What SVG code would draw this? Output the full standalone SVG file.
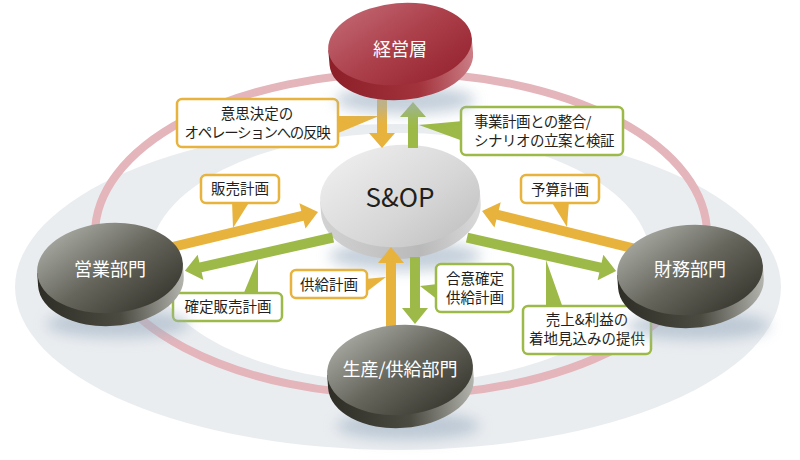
<svg xmlns="http://www.w3.org/2000/svg" width="800" height="460" viewBox="0 0 800 460">
<defs>
<linearGradient id="gTop" x1="0" y1="0" x2="1" y2="1">
<stop offset="0" stop-color="#b9bbb4"/><stop offset="0.5" stop-color="#66665d"/><stop offset="1" stop-color="#2c2c24"/>
</linearGradient>
<linearGradient id="gSide" x1="0" y1="0" x2="1" y2="0">
<stop offset="0" stop-color="#2e2e26"/><stop offset="0.55" stop-color="#4b4b42"/><stop offset="1" stop-color="#b4b5ae"/>
</linearGradient>
<linearGradient id="sTop" x1="0" y1="0" x2="1" y2="1">
<stop offset="0" stop-color="#f2f2f2"/><stop offset="0.6" stop-color="#d6d6d6"/><stop offset="1" stop-color="#bdbdbd"/>
</linearGradient>
<linearGradient id="sSide" x1="0" y1="0" x2="1" y2="0">
<stop offset="0" stop-color="#d2d2d2"/><stop offset="0.6" stop-color="#b9b9b9"/><stop offset="1" stop-color="#dadada"/>
</linearGradient>
<linearGradient id="rTop" x1="0" y1="0" x2="1" y2="1">
<stop offset="0" stop-color="#c56d78"/><stop offset="0.5" stop-color="#ab3f4a"/><stop offset="1" stop-color="#92202b"/>
</linearGradient>
<linearGradient id="rSide" x1="0" y1="0" x2="1" y2="0">
<stop offset="0" stop-color="#8c1f28"/><stop offset="0.6" stop-color="#a2323b"/><stop offset="1" stop-color="#cc7e86"/>
</linearGradient>
<filter id="blur" x="-50%" y="-100%" width="200%" height="300%"><feGaussianBlur stdDeviation="7"/></filter>
<style>
.shadow{fill:#9fb1c3;opacity:.6;filter:url(#blur)}
.org{fill:#e8b33c}
.grn{fill:#9dba48}
.bo{fill:#fff;stroke:#e8b33c;stroke-width:2.5}
.bg{fill:#fff;stroke:#9dba48;stroke-width:2.5}
.lbl{font-family:"Noto Sans CJK JP","Noto Sans",sans-serif;font-size:14.5px;fill:#231f20;text-anchor:middle}
.lft{text-anchor:start}
.dl{font-family:"Noto Sans CJK JP","Noto Sans",sans-serif;font-size:18px;fill:#fff;text-anchor:middle}
</style>
</defs>
<rect width="800" height="460" fill="#fff"/>
<g id="background">
<ellipse cx="398" cy="287" rx="383" ry="163" fill="#eaedf0"/>
<ellipse cx="400" cy="258" rx="250" ry="125" fill="#fff"/>
<ellipse cx="401" cy="234" rx="306" ry="161" fill="none" stroke="#e4b5bb" stroke-width="8"/>
</g>
<g id="node-sop">
<ellipse class="shadow" cx="405" cy="256" rx="76" ry="15"/>
<g transform="rotate(-4 400 196)">
<path fill="url(#sSide)" d="M320,196v12a80,51 0 0 0 160,0v-12z"/>
<ellipse fill="url(#sTop)" cx="400" cy="196" rx="80" ry="51"/>
</g>
<text x="400" y="207" font-family="'Noto Sans CJK JP','Noto Sans',sans-serif" font-size="26" fill="#231f20" text-anchor="middle">S&amp;OP</text>
</g>
<g id="connectors">
<path class="org" transform="translate(382,92) rotate(90)" d="M0,-5H41V-13L56,0L41,13V5H0Z"/>
<path class="grn" transform="translate(413,148) rotate(-90)" d="M0,-5H31V-13L46,0L31,13V5H0Z"/>
<path class="org" transform="translate(391,335) rotate(-90)" d="M0,-5H72V-13L88,0L72,13V5H0Z"/>
<path class="grn" transform="translate(415,257) rotate(90)" d="M0,-5H51V-13L67,0L51,13V5H0Z"/>
<path class="org" transform="translate(160,250) rotate(-13.5)" d="M0,-5H146.5V-13L162.5,0L146.5,13V5H0Z"/>
<path class="grn" transform="translate(333,237.5) rotate(167.3)" d="M0,-5H135.8V-13L151.8,0L135.8,13V5H0Z"/>
<path class="org" transform="translate(640,250) rotate(-166.1)" d="M0,-5H146.7V-13L162.7,0L146.7,13V5H0Z"/>
<path class="grn" transform="translate(467,237.6) rotate(12.65)" d="M0,-5H136.8V-13L152.8,0L136.8,13V5H0Z"/>
<g id="lbl-hanei">
<polygon class="org" points="336,116 379,116 336,134"/>
<rect class="bo" x="177" y="99" width="161" height="48" rx="5"/>
<text class="lbl" x="257" y="119">意思決定の</text>
<text class="lbl" x="257" y="138" letter-spacing="-1.3">オペレーションへの反映</text>
</g>
<g id="lbl-seigou">
<polygon class="grn" points="463,121 419,125 463,141"/>
<rect class="bg" x="461" y="107" width="162" height="48" rx="5"/>
<text class="lbl lft" x="474" y="127" letter-spacing="-0.5">事業計画との整合/</text>
<text class="lbl lft" x="474" y="146" letter-spacing="-0.5">シナリオの立案と検証</text>
</g>
<g id="lbl-hanbai">
<polygon class="org" points="232,201 250,201 233,228"/>
<rect class="bo" x="201" y="175" width="78" height="28" rx="5"/>
<text class="lbl" x="240" y="194">販売計画</text>
</g>
<g id="lbl-kakutei">
<polygon class="grn" points="243,295 258,295 258,259"/>
<rect class="bg" x="173" y="293" width="109" height="28" rx="5"/>
<text class="lbl" x="228" y="312">確定販売計画</text>
</g>
<g id="lbl-kyoukyu">
<polygon class="org" points="365,279 386,277 365,293"/>
<rect class="bo" x="291" y="270" width="76" height="28" rx="5"/>
<text class="lbl" x="329" y="290">供給計画</text>
</g>
<g id="lbl-goui">
<polygon class="grn" points="438,284 420,286 438,300"/>
<rect class="bg" x="436" y="264" width="77" height="48" rx="5"/>
<text class="lbl" x="475" y="284">合意確定</text>
<text class="lbl" x="475" y="303">供給計画</text>
</g>
<g id="lbl-yosan">
<polygon class="org" points="551,201 569,201 567,227"/>
<rect class="bo" x="521" y="175" width="78" height="28" rx="5"/>
<text class="lbl" x="560" y="195">予算計画</text>
</g>
<g id="lbl-mikomi">
<polygon class="grn" points="546,308 563,308 546,260"/>
<rect class="bg" x="523" y="306" width="128" height="48" rx="5"/>
<text class="lbl" x="587" y="325">売上&amp;利益の</text>
<text class="lbl" x="587" y="344">着地見込みの提供</text>
</g>
</g>
<g id="node-keiei">
<ellipse class="shadow" cx="405" cy="100" rx="70" ry="14"/>
<g transform="rotate(-5 400 44)">
<path fill="url(#rSide)" d="M328,44v15a72,41 0 0 0 144,0v-15z"/>
<ellipse fill="url(#rTop)" cx="400" cy="44" rx="72" ry="41"/>
</g>
<text class="dl" x="400" y="56" font-size="19">経営層</text>
</g>
<g id="node-eigyo">
<ellipse class="shadow" cx="118" cy="324" rx="72" ry="14"/>
<g transform="rotate(-4 110 268)">
<path fill="url(#gSide)" d="M37,268v13a73,45 0 0 0 146,0v-13z"/>
<ellipse fill="url(#gTop)" cx="110" cy="268" rx="73" ry="45"/>
</g>
<text class="dl" x="110" y="276">営業部門</text>
</g>
<g id="node-zaimu">
<ellipse class="shadow" cx="698" cy="326" rx="72" ry="14"/>
<g transform="rotate(-4 690 270)">
<path fill="url(#gSide)" d="M617,270v13a73,45 0 0 0 146,0v-13z"/>
<ellipse fill="url(#gTop)" cx="690" cy="270" rx="73" ry="45"/>
</g>
<text class="dl" x="690" y="276">財務部門</text>
</g>
<g id="node-seisan">
<ellipse class="shadow" cx="408" cy="426" rx="72" ry="14"/>
<g transform="rotate(-4 400 370)">
<path fill="url(#gSide)" d="M327,370v13a73,45 0 0 0 146,0v-13z"/>
<ellipse fill="url(#gTop)" cx="400" cy="370" rx="73" ry="45"/>
</g>
<text class="dl" x="400" y="376">生産/供給部門</text>
</g>
</svg>
